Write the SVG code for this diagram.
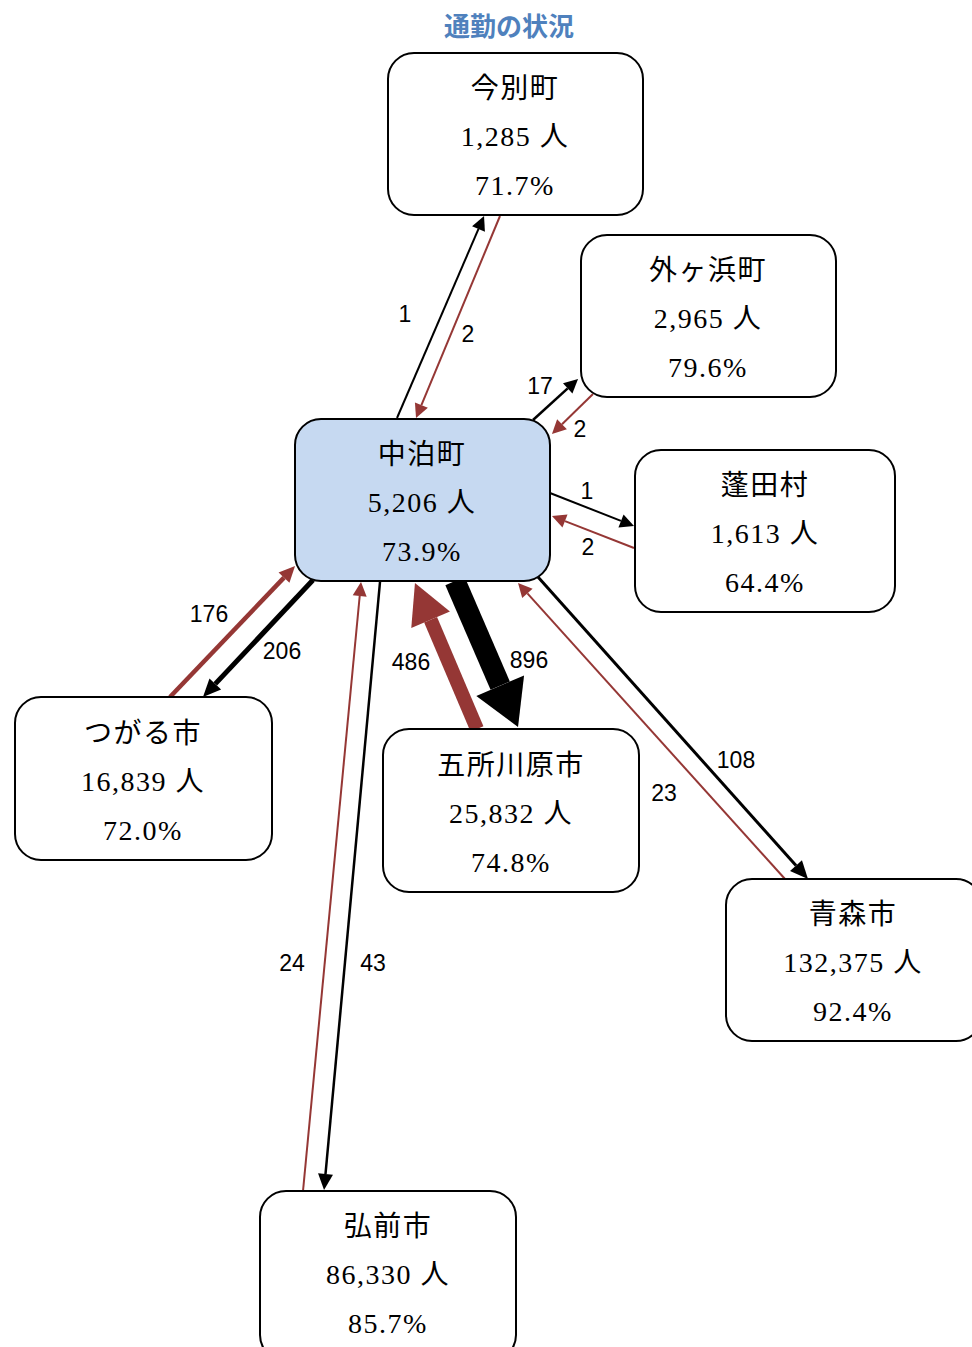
<svg xmlns="http://www.w3.org/2000/svg" width="972" height="1347" viewBox="0 0 972 1347">
  <style>
    .box { fill: #ffffff; stroke: #000000; stroke-width: 2; }
    .hub { fill: #c6d9f1; stroke: #000000; stroke-width: 2; }
    .nt { font-family: "Liberation Serif", "Noto Sans CJK JP", serif; font-size: 28px; letter-spacing: 1.5px; fill: #000000; text-anchor: middle; }
    .lbl { font-family: "Liberation Sans", "Noto Sans CJK JP", sans-serif; font-size: 23px; fill: #000000; text-anchor: middle; }
    .title { font-family: "Noto Sans CJK JP", sans-serif; font-size: 26px; font-weight: bold; fill: #4f81bd; text-anchor: middle; }
    .out { stroke: #000000; fill: none; stroke-linecap: butt; }
    .in { stroke: #953735; fill: none; stroke-linecap: butt; }
  </style>
  <defs>
    <!-- arrowheads: refX at the base, so each line stops where its head begins -->
    <marker id="hs-k" markerUnits="userSpaceOnUse" markerWidth="16" markerHeight="14" refX="0" refY="7" orient="auto" overflow="visible">
      <path d="M0,0 L14,7 L0,14 z" fill="#000000"/>
    </marker>
    <marker id="hs-r" markerUnits="userSpaceOnUse" markerWidth="16" markerHeight="14" refX="0" refY="7" orient="auto" overflow="visible">
      <path d="M0,0 L14,7 L0,14 z" fill="#953735"/>
    </marker>
    <marker id="hm-k" markerUnits="userSpaceOnUse" markerWidth="18" markerHeight="18" refX="0" refY="8" orient="auto" overflow="visible">
      <path d="M0,0 L18,8 L0,16 z" fill="#000000"/>
    </marker>
    <marker id="hv-k" markerUnits="userSpaceOnUse" markerWidth="16" markerHeight="16" refX="0" refY="7.5" orient="auto" overflow="visible">
      <path d="M0,0 L16,7.5 L0,15 z" fill="#000000"/>
    </marker>
    <marker id="hm-r" markerUnits="userSpaceOnUse" markerWidth="16" markerHeight="16" refX="0" refY="7.5" orient="auto" overflow="visible">
      <path d="M0,0 L16,7.5 L0,15 z" fill="#953735"/>
    </marker>
    <marker id="hl-r" markerUnits="userSpaceOnUse" markerWidth="40" markerHeight="42" refX="0" refY="21" orient="auto" overflow="visible">
      <path d="M0,0 L40,21 L0,42 z" fill="#953735"/>
    </marker>
    <marker id="hx-k" markerUnits="userSpaceOnUse" markerWidth="45" markerHeight="52" refX="0" refY="26" orient="auto" overflow="visible">
      <path d="M0,0 L45,26 L0,52 z" fill="#000000"/>
    </marker>
  </defs>

  <text class="title" x="509" y="36">通勤の状況</text>

  <g id="connectors">
    <!-- 中泊町 ⇄ 今別町 -->
    <line class="out" x1="397" y1="418" x2="478.5" y2="228.9" stroke-width="2" marker-end="url(#hs-k)"/>
    <line class="in" x1="500" y1="216" x2="421.4" y2="405.1" stroke-width="2" marker-end="url(#hs-r)"/>
    <!-- 中泊町 ⇄ 外ヶ浜町 -->
    <line class="out" x1="533" y1="420" x2="567.7" y2="388.4" stroke-width="2.5" marker-end="url(#hs-k)"/>
    <line class="in" x1="593" y1="394" x2="562" y2="424.2" stroke-width="2" marker-end="url(#hs-r)"/>
    <!-- 中泊町 ⇄ 蓬田村 -->
    <line class="out" x1="550" y1="493" x2="621" y2="520.9" stroke-width="2" marker-end="url(#hs-k)"/>
    <line class="in" x1="634" y1="548" x2="565" y2="521.1" stroke-width="2" marker-end="url(#hs-r)"/>
    <!-- 中泊町 ⇄ つがる市 -->
    <line class="out" x1="313" y1="580" x2="215.3" y2="683.9" stroke-width="5" marker-end="url(#hm-k)"/>
    <line class="in" x1="170" y1="697" x2="284" y2="577.6" stroke-width="4.5" marker-end="url(#hm-r)"/>
    <!-- 中泊町 ⇄ 五所川原市 -->
    <line class="out" x1="455" y1="581" x2="500.2" y2="685.7" stroke-width="21" marker-end="url(#hx-k)"/>
    <line class="in" x1="477" y1="729" x2="430.6" y2="619.8" stroke-width="14" marker-end="url(#hl-r)"/>
    <!-- 中泊町 ⇄ 青森市 -->
    <line class="out" x1="538" y1="577" x2="796" y2="865.6" stroke-width="3" marker-end="url(#hm-k)"/>
    <line class="in" x1="785" y1="879" x2="527.4" y2="593.4" stroke-width="2" marker-end="url(#hs-r)"/>
    <!-- 中泊町 ⇄ 弘前市 -->
    <line class="out" x1="380" y1="582" x2="325.5" y2="1174" stroke-width="2.5" marker-end="url(#hv-k)"/>
    <line class="in" x1="303" y1="1191" x2="359.7" y2="596" stroke-width="2" marker-end="url(#hs-r)"/>

    <text class="lbl" x="405" y="322">1</text>
    <text class="lbl" x="468" y="342">2</text>
    <text class="lbl" x="540" y="394">17</text>
    <text class="lbl" x="580" y="437">2</text>
    <text class="lbl" x="587" y="499">1</text>
    <text class="lbl" x="588" y="555">2</text>
    <text class="lbl" x="209" y="622">176</text>
    <text class="lbl" x="282" y="659">206</text>
    <text class="lbl" x="411" y="670">486</text>
    <text class="lbl" x="529" y="668">896</text>
    <text class="lbl" x="736" y="768">108</text>
    <text class="lbl" x="664" y="801">23</text>
    <text class="lbl" x="292" y="971">24</text>
    <text class="lbl" x="373" y="971">43</text>
  </g>

  <g id="imabetsu">
    <rect class="box" x="388" y="53" width="255" height="162" rx="26"/>
    <text class="nt" x="515" y="98">今別町</text>
    <text class="nt" x="515" y="146">1,285 人</text>
    <text class="nt" x="515" y="195">71.7%</text>
  </g>

  <g id="sotogahama">
    <rect class="box" x="581" y="235" width="255" height="162" rx="26"/>
    <text class="nt" x="708" y="280">外ヶ浜町</text>
    <text class="nt" x="708" y="328">2,965 人</text>
    <text class="nt" x="708" y="377">79.6%</text>
  </g>

  <g id="nakadomari">
    <rect class="hub" x="295" y="419" width="255" height="162" rx="26"/>
    <text class="nt" x="422" y="464">中泊町</text>
    <text class="nt" x="422" y="512">5,206 人</text>
    <text class="nt" x="422" y="561">73.9%</text>
  </g>

  <g id="yomogita">
    <rect class="box" x="635" y="450" width="260" height="162" rx="26"/>
    <text class="nt" x="765" y="495">蓬田村</text>
    <text class="nt" x="765" y="543">1,613 人</text>
    <text class="nt" x="765" y="592">64.4%</text>
  </g>

  <g id="tsugaru">
    <rect class="box" x="15" y="697" width="257" height="163" rx="26"/>
    <text class="nt" x="143" y="743">つがる市</text>
    <text class="nt" x="143" y="791">16,839 人</text>
    <text class="nt" x="143" y="840">72.0%</text>
  </g>

  <g id="goshogawara">
    <rect class="box" x="383" y="729" width="256" height="163" rx="26"/>
    <text class="nt" x="511" y="775">五所川原市</text>
    <text class="nt" x="511" y="823">25,832 人</text>
    <text class="nt" x="511" y="872">74.8%</text>
  </g>

  <g id="aomori">
    <rect class="box" x="726" y="879" width="256" height="162" rx="26"/>
    <text class="nt" x="853" y="924">青森市</text>
    <text class="nt" x="853" y="972">132,375 人</text>
    <text class="nt" x="853" y="1021">92.4%</text>
  </g>

  <g id="hirosaki">
    <rect class="box" x="260" y="1191" width="256" height="170" rx="26"/>
    <text class="nt" x="388" y="1236">弘前市</text>
    <text class="nt" x="388" y="1284">86,330 人</text>
    <text class="nt" x="388" y="1333">85.7%</text>
  </g>
</svg>
